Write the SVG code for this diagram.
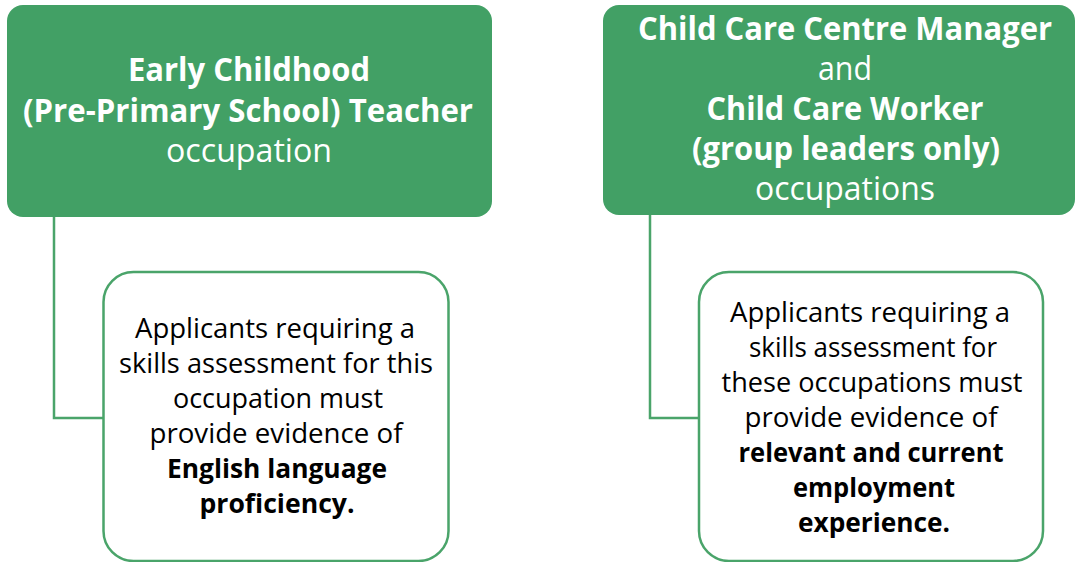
<svg xmlns="http://www.w3.org/2000/svg" width="1077" height="562" viewBox="0 0 1077 562">
<style>
.head{fill:#42A065;}
.detail{fill:#ffffff;stroke:#4AA46A;stroke-width:2.5;}
.conn{fill:none;stroke:#4AA46A;stroke-width:2.5;}
.ht{font-family:"Open Sans","Liberation Sans",sans-serif;font-size:32px;fill:#ffffff;text-anchor:middle;}
.bt{font-family:"Open Sans","Liberation Sans",sans-serif;font-size:27px;fill:#000000;text-anchor:middle;}
.b{font-weight:bold;}
</style>
<rect width="1077" height="562" fill="#ffffff"/>
<g id="connectors">
<path class="conn" d="M54 217 V418 H103"/>
<path class="conn" d="M650 215 V418 H699"/>
</g>
<g id="node-teacher">
<rect class="head" x="7" y="5" width="485" height="212" rx="16"/>
<text class="ht b" x="249" y="81" textLength="242" lengthAdjust="spacingAndGlyphs">Early Childhood</text>
<text class="ht b" x="248" y="122" textLength="450" lengthAdjust="spacingAndGlyphs">(Pre-Primary School) Teacher</text>
<text class="ht" x="249" y="162" textLength="166" lengthAdjust="spacingAndGlyphs">occupation</text>
</g>
<g id="node-childcare">
<rect class="head" x="603" y="5" width="472" height="210" rx="16"/>
<text class="ht b" x="845" y="40" textLength="414" lengthAdjust="spacingAndGlyphs">Child Care Centre Manager</text>
<text class="ht" x="845" y="80" textLength="54" lengthAdjust="spacingAndGlyphs">and</text>
<text class="ht b" x="845" y="120" textLength="277" lengthAdjust="spacingAndGlyphs">Child Care Worker</text>
<text class="ht b" x="846" y="160" textLength="308" lengthAdjust="spacingAndGlyphs">(group leaders only)</text>
<text class="ht" x="845" y="200" textLength="180" lengthAdjust="spacingAndGlyphs">occupations</text>
</g>
<g id="node-english">
<rect class="detail" x="103.5" y="272" width="345" height="289" rx="30"/>
<text class="bt" x="275" y="338" textLength="280" lengthAdjust="spacingAndGlyphs">Applicants requiring a</text>
<text class="bt" x="276" y="373" textLength="314" lengthAdjust="spacingAndGlyphs">skills assessment for this</text>
<text class="bt" x="278" y="408" textLength="210" lengthAdjust="spacingAndGlyphs">occupation must</text>
<text class="bt" x="276" y="443" textLength="253" lengthAdjust="spacingAndGlyphs">provide evidence of</text>
<text class="bt b" x="277" y="478" textLength="220" lengthAdjust="spacingAndGlyphs">English language</text>
<text class="bt b" x="277" y="513" textLength="155" lengthAdjust="spacingAndGlyphs">proficiency.</text>
</g>
<g id="node-employment">
<rect class="detail" x="699" y="272" width="344" height="289" rx="30"/>
<text class="bt" x="870" y="322" textLength="280" lengthAdjust="spacingAndGlyphs">Applicants requiring a</text>
<text class="bt" x="873" y="357" textLength="248" lengthAdjust="spacingAndGlyphs">skills assessment for</text>
<text class="bt" x="872" y="392" textLength="301" lengthAdjust="spacingAndGlyphs">these occupations must</text>
<text class="bt" x="871" y="427" textLength="253" lengthAdjust="spacingAndGlyphs">provide evidence of</text>
<text class="bt b" x="871" y="462" textLength="265" lengthAdjust="spacingAndGlyphs">relevant and current</text>
<text class="bt b" x="874" y="497" textLength="162" lengthAdjust="spacingAndGlyphs">employment</text>
<text class="bt b" x="874" y="532" textLength="152" lengthAdjust="spacingAndGlyphs">experience.</text>
</g>
</svg>
